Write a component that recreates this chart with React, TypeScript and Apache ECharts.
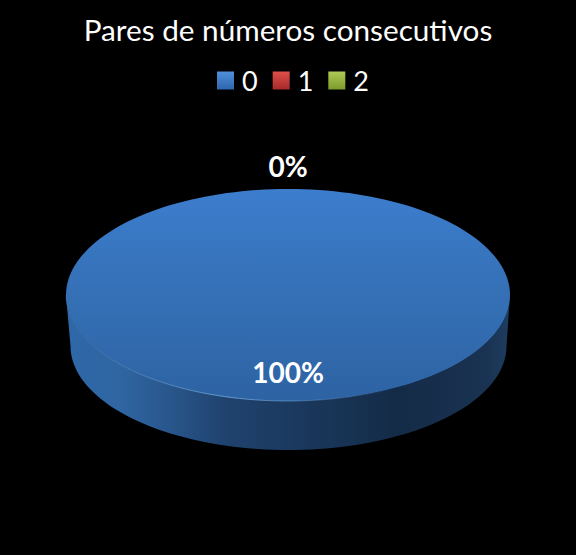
import React, { useEffect, useRef } from "react";
import * as echarts from "echarts";

const titleText = "Pares de números consecutivos";
const categories = ["0", "1", "2"];
const values = [100, 0, 0];
const labelShown = [true, true, false];

const FONT = "Lato, Carlito, 'Open Sans', sans-serif";
const CX = 288;
const CY = 295;
const RX = 222;
const RY = 106;
const BOTTOM_CX = 288.5;
const BOTTOM_CY = 346;
const BOTTOM_RX = 218;
const BOTTOM_RY = 104;
const STEPS = 180;

const topFill = new echarts.graphic.LinearGradient(0, 0, 0, 1, [
  { offset: 0, color: "#3c7dcd" },
  { offset: 0.5, color: "#3570b6" },
  { offset: 1, color: "#2d63a3" },
]);
const sideFill = new echarts.graphic.LinearGradient(0, 0, 1, 0, [
  { offset: 0, color: "#2f68a8" },
  { offset: 0.12, color: "#2f66a3" },
  { offset: 0.24, color: "#28558a" },
  { offset: 0.36, color: "#1f426e" },
  { offset: 0.5, color: "#1b3a60" },
  { offset: 0.75, color: "#142b47" },
  { offset: 0.95, color: "#1a3352" },
  { offset: 1, color: "#1e3d62" },
]);
const edgeStroke = new echarts.graphic.LinearGradient(0, 0, 1, 0, [
  { offset: 0, color: "rgba(110,165,225,0.25)" },
  { offset: 0.5, color: "rgba(110,165,225,0.9)" },
  { offset: 1, color: "rgba(110,165,225,0.05)" },
]);

const seriesFills = [
  ["#4f90dc", "#2f66ad"],
  ["#e04f4b", "#a52b2a"],
  ["#aecb55", "#7d9a2f"],
];
const legendFill = (i: number) =>
  new echarts.graphic.LinearGradient(0, 0, 0, 1, [
    { offset: 0, color: seriesFills[i][0] },
    { offset: 1, color: seriesFills[i][1] },
  ]);

const total = values.reduce((a, b) => a + b, 0);

function arc(cx: number, cy: number, rx: number, ry: number, a0: number, a1: number) {
  const pts: number[][] = [];
  const n = Math.max(2, Math.ceil((Math.abs(a1 - a0) / (2 * Math.PI)) * STEPS));
  for (let i = 0; i <= n; i++) {
    const a = a0 + ((a1 - a0) * i) / n;
    pts.push([cx + rx * Math.cos(a), cy + ry * Math.sin(a)]);
  }
  return pts;
}

function renderSlice(index: number) {
  return () => {
    const before = values.slice(0, index).reduce((a, b) => a + b, 0);
    const start = -Math.PI / 2 + (before / total) * 2 * Math.PI;
    const end = start + (values[index] / total) * 2 * Math.PI;
    const children: any[] = [];
    if (values[index] > 0) {
      // visible front wall: the part of the slice on the lower half of the ellipse
      for (const k of [0, 1]) {
        const a0 = Math.max(start, k * 2 * Math.PI);
        const a1 = Math.min(end, Math.PI + k * 2 * Math.PI);
        if (a1 > a0) {
          const upper = arc(CX, CY, RX, RY, a0, a1);
          const lower = arc(BOTTOM_CX, BOTTOM_CY, BOTTOM_RX, BOTTOM_RY, a1, a0);
          children.push({
            type: "polygon",
            shape: { points: upper.concat(lower) },
            style: { fill: sideFill },
          });
        }
      }
      children.push({
        type: "polygon",
        shape: { points: [[CX, CY], ...arc(CX, CY, RX, RY, start, end)] },
        style: { fill: topFill },
      });
      const e0 = Math.max(start, Math.PI * 0.35);
      const e1 = Math.min(end, Math.PI);
      if (e1 > e0) {
        children.push({
          type: "polyline",
          shape: { points: arc(CX, CY, RX, RY, e0, e1) },
          style: { stroke: edgeStroke, lineWidth: 1, fill: "none" },
        });
      }
    }
    if (labelShown[index]) {
      const mid = (start + end) / 2;
      const ratio = values[index] > 0 ? 0.73 : 1.22;
      children.push({
        type: "text",
        z2: 10,
        style: {
          x: CX + RX * ratio * Math.cos(mid),
          y: CY + RY * ratio * Math.sin(mid),
          text: `${Math.round((values[index] / total) * 100)}%`,
          fill: "#ffffff",
          font: `bold 28px ${FONT}`,
          align: "center",
          verticalAlign: "middle",
        },
      });
    }
    return { type: "group", children };
  };
}

export default function App() {
  const ref = useRef<HTMLDivElement>(null);
  useEffect(() => {
    const chart = echarts.init(ref.current!, null, { renderer: "svg" });
    chart.setOption({
      animation: false,
      backgroundColor: "#000000",
      title: {
        text: titleText,
        left: "center",
        top: 9,
        textStyle: { color: "#ffffff", fontSize: 29.7, fontWeight: "normal", fontFamily: FONT },
      },
      legend: {
        left: 217,
        top: 67,
        padding: 0,
        itemWidth: 17,
        itemHeight: 18,
        itemGap: 15,
        icon: "rect",
        textStyle: { color: "#ffffff", fontSize: 27, fontFamily: FONT, padding: [0, 0, 0, 3] },
        data: categories.map((name, i) => ({
          name,
          itemStyle: { color: legendFill(i) },
        })),
      },
      series: categories.map((name, i) => ({
        type: "custom",
        name,
        coordinateSystem: "none",
        silent: true,
        itemStyle: { color: seriesFills[i][1] },
        data: [values[i]],
        renderItem: renderSlice(i),
      })),
    });
    return () => chart.dispose();
  }, []);
  return (
    <div
      ref={ref}
      style={{ position: "fixed", left: 0, top: 0, width: 576, height: 555 }}
    />
  );
}
